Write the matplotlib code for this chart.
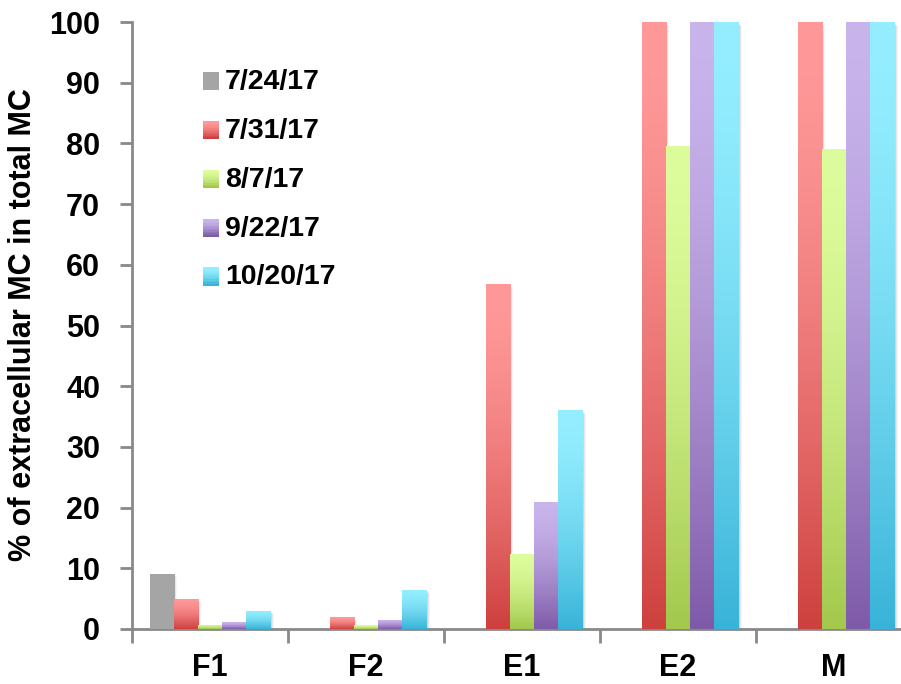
import numpy as np
import matplotlib
matplotlib.use("Agg")
import matplotlib.pyplot as plt
import matplotlib.transforms as mtransforms
from matplotlib.patches import Rectangle
from matplotlib.legend_handler import HandlerBase

plt.rcParams['font.family'] = ['Liberation Sans', 'DejaVu Sans']
plt.rcParams['font.weight'] = 'bold'

# data
sites = ["F1", "F2", "E1", "E2", "M"]
dates = ["7/24/17", "7/31/17", "8/7/17", "9/22/17", "10/20/17"]
v_0724 = [9.1, 0, 0, 0, 0]
v_0731 = [5.0, 1.9, 56.8, 100, 100]
v_0807 = [0.7, 0.6, 12.3, 79.5, 79.0]
v_0922 = [1.1, 1.5, 21.0, 100, 100]
v_1020 = [3.0, 6.5, 36.0, 100, 100]
series = [v_0724, v_0731, v_0807, v_0922, v_1020]

# gradient colours, top -> bottom
grads = [
    ("#a5a5a5", "#a5a5a5"),
    ("#ff9999", "#cd403e"),
    ("#ddfc9c", "#a2c84c"),
    ("#c9b4ec", "#7e5aa8"),
    ("#94eeff", "#38b3d8"),
]


def grad_img(top, bot, n=256):
    c1 = np.array(matplotlib.colors.to_rgba(top))
    c2 = np.array(matplotlib.colors.to_rgba(bot))
    t = np.linspace(0, 1, n) ** 1.6
    img = c1[None, :] * (1 - t[:, None]) + c2[None, :] * t[:, None]
    return img.reshape(n, 1, 4)


fig = plt.figure(figsize=(9.01, 6.84), dpi=100)
ax = fig.add_axes([132 / 901, 55 / 684, 780 / 901, 607 / 684])

x = np.arange(len(sites))
w = 0.155

for i, vals in enumerate(series):
    bars = ax.bar(x + (i - 2) * w, vals, w, color="none", edgecolor="none", zorder=3)
    img = grad_img(*grads[i])
    for b in bars:
        h = b.get_height()
        if h <= 0:
            continue
        x0 = b.get_x()
        # soft shadow
        for k, a in enumerate([0.08, 0.06, 0.04]):
            ax.add_patch(Rectangle((x0, 0), w, h, facecolor="black", alpha=a,
                                   edgecolor="none", zorder=2,
                                   transform=ax.transData + mtransforms.ScaledTranslation(
                                       (1.5 + k) / 100, -(1.5 + k) / 100, fig.dpi_scale_trans)))
        im = ax.imshow(img, extent=[x0, x0 + w, 0, h], aspect="auto",
                       origin="upper", zorder=3, interpolation="bilinear")
        im.set_clip_path(b)

ax.set_xlim(-0.5, 4.5)
ax.set_ylim(0, 100)
ax.set_yticks(np.arange(0, 101, 10))
ax.set_xticks(np.arange(-0.5, 5, 1))
ax.set_xticklabels([])
ax.set_xticks(x, minor=True)
ax.set_xticklabels(sites, minor=True)
ax.tick_params(axis="x", which="minor", length=0, pad=17, labelsize=22)
ax.tick_params(axis="x", which="major", length=10, width=2, color="#898989")
ax.tick_params(axis="y", length=9, width=2, color="#898989", labelsize=22, pad=14)
for s in ["top", "right"]:
    ax.spines[s].set_visible(False)
for s in ["left", "bottom"]:
    ax.spines[s].set_color("#898989")
    ax.spines[s].set_linewidth(2)
ax.set_ylabel("% of extracellular MC in total MC", fontsize=22, fontweight="bold")
ax.yaxis.set_label_coords(-0.121, 0.502)


class GradHandler(HandlerBase):
    def __init__(self, top, bot):
        super().__init__()
        self.top, self.bot = top, bot

    def create_artists(self, legend, orig, xd, yd, width, height, fontsize, trans):
        img = grad_img(self.top, self.bot, 12)[:, 0, :]
        arts = []
        n = len(img)
        for k in range(n):
            arts.append(Rectangle((xd, yd + height * (n - 1 - k) / n), width, height / n + 0.3,
                                  facecolor=img[k], edgecolor="none", transform=trans))
        return arts


handles = [Rectangle((0, 0), 1, 1) for _ in dates]
hmap = {h: GradHandler(*g) for h, g in zip(handles, grads)}
ax.legend(handles, dates, handler_map=hmap, loc="upper left",
          bbox_to_anchor=(0.0764, 0.941), frameon=False, fontsize=20.5,
          handlelength=0.58, handleheight=0.58, handletextpad=0.19,
          labelspacing=0.8, borderaxespad=0)

fig.savefig("out.png", dpi=100)
